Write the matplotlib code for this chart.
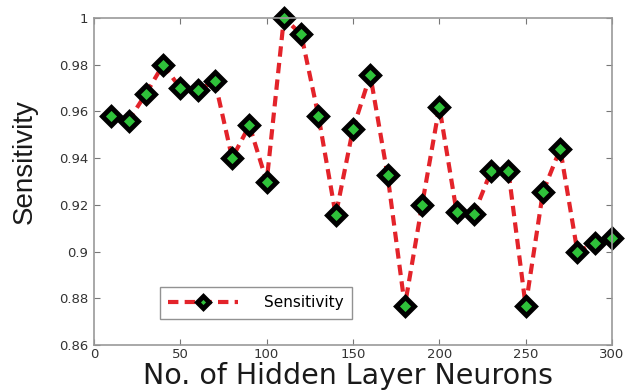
import numpy as np
import matplotlib.pyplot as plt

# hidden layer size vs sensitivity
neurons = [10, 20, 30, 40, 50, 60, 70, 80, 90, 100,
           110, 120, 130, 140, 150, 160, 170, 180, 190, 200,
           210, 220, 230, 240, 250, 260, 270, 280, 290, 300]
sensitivity = [0.958, 0.956, 0.9675, 0.980, 0.970, 0.969, 0.973, 0.940, 0.954, 0.930,
               1.000, 0.993, 0.958, 0.9156, 0.9525, 0.9756, 0.9328, 0.8767, 0.920, 0.962,
               0.917, 0.916, 0.9345, 0.9345, 0.8767, 0.9255, 0.944, 0.8998, 0.9036, 0.906]

xticks = [0, 50, 100, 150, 200, 250, 300]
yticks = [0.86, 0.88, 0.9, 0.92, 0.94, 0.96, 0.98, 1]
ytick_labels = ['0.86', '0.88', '0.9', '0.92', '0.94', '0.96', '0.98', '1']

plt.rcParams['font.family'] = ['DejaVu Sans']

fig = plt.figure(figsize=(6.33, 3.9), dpi=100)
ax = fig.add_axes([94 / 633, 1 - 345 / 390, (612 - 94) / 633, (345 - 18) / 390])

ax.plot(neurons, sensitivity, color='#e3232a', linestyle=(0, (2.5, 1.5)), linewidth=3,
        marker='D', markersize=9, markerfacecolor='#2fc23a', markeredgecolor='black',
        markeredgewidth=3.5, label='Sensitivity', clip_on=False)

ax.set_xlim(0, 300)
ax.set_ylim(0.86, 1)
ax.set_xticks(xticks)
ax.set_yticks(yticks)
ax.set_yticklabels(ytick_labels)
ax.tick_params(direction='in', top=True, right=True, labelsize=9.5, length=4,
               color='#777777', labelcolor='#333333')
ax.tick_params(axis='x', pad=2)
ax.tick_params(axis='y', pad=4)
for s in ax.spines.values():
    s.set_color('#999999')
    s.set_linewidth(1.2)

ax.set_xlabel('No. of Hidden Layer Neurons', fontsize=20.5, color='#1a1a1a', va='baseline')
ax.xaxis.set_label_coords(0.49, -0.12)
ax.set_ylabel('Sensitivity', fontsize=20, color='#1a1a1a', family='Liberation Sans')
ax.yaxis.set_label_coords(-0.108, 0.56)

leg = ax.legend(loc='lower left', bbox_to_anchor=(0.127, 0.08), fontsize=11,
                frameon=True, fancybox=False, borderpad=0.55, handlelength=4.6,
                handletextpad=1.7, borderaxespad=0, markerscale=0.7)
leg.get_frame().set_edgecolor('#777777')
leg.get_frame().set_linewidth(1.0)

fig.savefig('out.png', dpi=100)
